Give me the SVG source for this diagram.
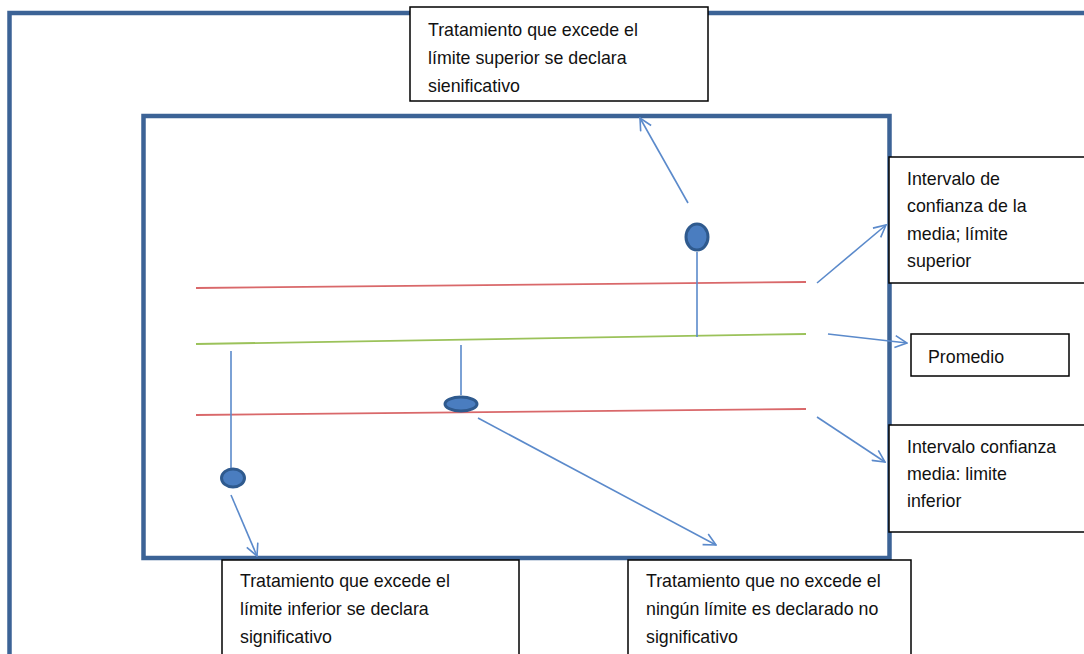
<svg xmlns="http://www.w3.org/2000/svg" width="1084" height="654" viewBox="0 0 1084 654">
<style>
.frame{fill:none;stroke:#3C6396;stroke-width:4.5}
.box{fill:#fff;stroke:#000;stroke-width:1.5}
.t{font-family:"Liberation Sans",Arial,sans-serif;font-size:17.8px;fill:#111}
.con{stroke:#5B8ACB;stroke-width:1.6;fill:none}
.conm{stroke:#5B8ACB;stroke-width:1.6;fill:none;marker-end:url(#arr)}
.dot{fill:#4A7DC0;stroke:#2F5A8E;stroke-width:3}
.red{stroke:#D9686A;stroke-width:1.8;fill:none}
.green{stroke:#9BC25A;stroke-width:1.8;fill:none}
</style>
<defs>
<marker id="arr" viewBox="0 0 14 14" refX="13" refY="7" markerWidth="14" markerHeight="14" markerUnits="userSpaceOnUse" orient="auto">
<path d="M1,1 L13,7 L1,13" fill="none" stroke="#5B8ACB" stroke-width="1.6"/>
</marker>
</defs>
<rect width="1084" height="654" fill="#fff"/>
<g id="outer-frame"><path class="frame" d="M9.5,660 V13 H1090"/></g>
<g id="inner-frame"><rect class="frame" x="143.5" y="116" width="746" height="442"/></g>
<g id="lines">
<line class="red" x1="196" y1="288" x2="806" y2="282"/>
<line class="green" x1="196" y1="344" x2="806" y2="334"/>
<line class="red" x1="196" y1="415" x2="806" y2="409"/>
</g>
<g id="connectors">
<line class="con" x1="697" y1="252" x2="697" y2="337"/>
<line class="con" x1="461" y1="345" x2="461" y2="395"/>
<line class="con" x1="231" y1="351" x2="231" y2="468"/>
<line class="conm" x1="688" y1="203" x2="640" y2="118"/>
<line class="conm" x1="478" y1="418" x2="716" y2="545"/>
<line class="conm" x1="231" y1="495" x2="257" y2="556"/>
<line class="conm" x1="817" y1="283" x2="886" y2="225"/>
<line class="conm" x1="828" y1="334" x2="907" y2="343"/>
<line class="conm" x1="817" y1="417" x2="885" y2="462"/>
</g>
<g id="dot-upper"><ellipse class="dot" cx="697" cy="237" rx="11" ry="13"/></g>
<g id="dot-middle"><ellipse class="dot" cx="461" cy="404" rx="16" ry="7"/></g>
<g id="dot-lower"><ellipse class="dot" cx="233" cy="478" rx="11.5" ry="9"/></g>
<g id="box-top">
<rect class="box" x="410" y="7" width="298" height="94"/>
<text class="t" x="428" y="36">Tratamiento que excede el</text>
<text class="t" x="428" y="64">límite superior se declara</text>
<text class="t" x="428" y="92">sienificativo</text>
</g>
<g id="box-upper-limit">
<rect class="box" x="889" y="157" width="200" height="126"/>
<text class="t" x="907" y="185">Intervalo de</text>
<text class="t" x="907" y="212">confianza de la</text>
<text class="t" x="907" y="240">media; límite</text>
<text class="t" x="907" y="267">superior</text>
</g>
<g id="box-mean">
<rect class="box" x="911" y="334" width="158" height="42"/>
<text class="t" x="928" y="363">Promedio</text>
</g>
<g id="box-lower-limit">
<rect class="box" x="889" y="425" width="200" height="107"/>
<text class="t" x="907" y="453">Intervalo confianza</text>
<text class="t" x="907" y="480">media: limite</text>
<text class="t" x="907" y="507">inferior</text>
</g>
<g id="box-bottom-left">
<rect class="box" x="222" y="560" width="297" height="100"/>
<text class="t" x="240" y="587">Tratamiento que excede el</text>
<text class="t" x="240" y="615">límite inferior se declara</text>
<text class="t" x="240" y="643">significativo</text>
</g>
<g id="box-bottom-right">
<rect class="box" x="628" y="560" width="283" height="100"/>
<text class="t" x="646" y="587">Tratamiento que no excede el</text>
<text class="t" x="646" y="615">ningún límite es declarado no</text>
<text class="t" x="646" y="643">significativo</text>
</g>
</svg>
